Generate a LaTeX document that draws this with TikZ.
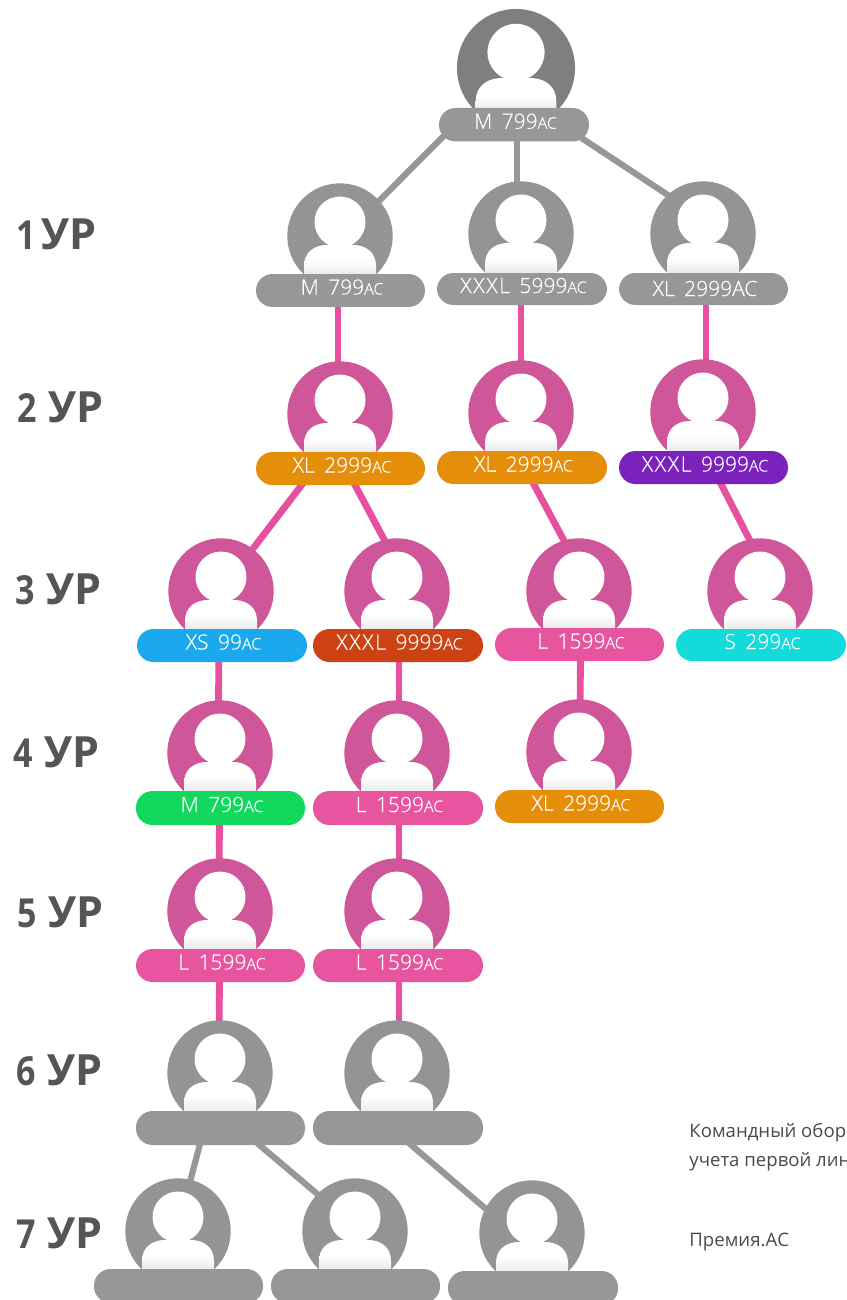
\documentclass[tikz,border=0pt]{standalone}
\usepackage{fontspec}
\setmainfont{Open Sans}
\newfontfamily\pillfont[RawFeature={embolden=0.35}]{Open Sans Light}
\usetikzlibrary{backgrounds}
\definecolor{grayc}{HTML}{949494}
\definecolor{graytop}{HTML}{7F7F7F}
\definecolor{graypill}{HTML}{979797}
\definecolor{pinkc}{HTML}{CF5699}
\definecolor{linkp}{HTML}{E6509F}
\definecolor{linkg}{HTML}{979797}
\definecolor{cor}{HTML}{E58E09}
\definecolor{cpu}{HTML}{7A22BB}
\definecolor{cbl}{HTML}{1AA9EF}
\definecolor{cre}{HTML}{CD4213}
\definecolor{cpk}{HTML}{E6559E}
\definecolor{ccy}{HTML}{13DBD9}
\definecolor{cgr}{HTML}{12D85E}
\definecolor{lab}{HTML}{555555}
\definecolor{notec}{HTML}{4A4A4A}
\tikzset{
  x=0.5pt,y=-0.5pt,
  disc/.style={circle,inner sep=0pt,minimum size=#1},
  pillbox/.style={rectangle,rounded corners=8.25pt,inner sep=0pt,text=white,
    font=\pillfont\fontsize{10.5pt}{12pt}\selectfont,text height=4pt,text depth=0pt},
  lvl/.style={anchor=base west,inner sep=0pt,text=lab,font=\bfseries\fontsize{21.5pt}{24pt}\selectfont},
  note/.style={anchor=base west,inner sep=0pt,text=notec,font=\fontsize{9.3pt}{11pt}\selectfont},
  linkpink/.style={draw=linkp,line width=3.4pt},
  linkgray/.style={draw=linkg,line width=3.1pt},
}
\newcommand{\person}[5]{% id cx cy color scale
  \node[disc=52.7pt*#5,fill=#4] (c#1) at (#2,#3) {};
  \begin{scope}[shift={(#2,#3)},scale=#5]
    \fill[white] (0,-14) circle (25.5);
    \shade[top color=white,bottom color=black!9,middle color=white]
      (-36,40) -- (-36,30) .. controls (-36,17) and (-27,10) .. (-15,9)
      -- (15,9) .. controls (27,10) and (36,17) .. (36,30) -- (36,40) -- cycle;
  \end{scope}
}
\newcommand{\pillb}[7]{% id x1 x2 y1 y2 colour text
  \node[pillbox,fill=#6,minimum width={(#3-#2)*0.5pt},minimum height={(#5-#4)*0.5pt}]
    (p#1) at ({(#2+#3)/2},{(#4+#5)/2}) {\hspace{1.5pt}#7};
}
\newcommand{\sz}[2]{#1\hspace{0.45em}#2}
\newcommand{\ac}{{\fontsize{8pt}{9pt}\selectfont AC}}
\newcommand{\xxxl}{{\addfontfeature{LetterSpace=8}XXXL}}
\newcommand{\lv}[2]{\scalebox{0.85}[1]{\fontsize{20pt}{22pt}\selectfont #1}\hspace{#2}УР}
% link: style, from node, dx, dy, to node, dx, dy (offsets in px from node centres)
\newcommand{\lnk}[7]{\draw[#1] ([shift={(#3,#4)}]#2.center) -- ([shift={(#6,#7)}]#5.center);}
\begin{document}
\begin{tikzpicture}
\useasboundingbox (0,0) rectangle (846,1300);
% people
\person{a}{516}{68}{graytop}{1.12}
\pillb{a}{439}{589}{108}{141.5}{graypill}{\sz{M}{799\ac}}
\person{ba}{340}{236}{grayc}{1}
\pillb{ba}{256}{425}{274}{307}{graypill}{\sz{M}{799\ac}}
\person{bb}{521}{234}{grayc}{1}
\pillb{bb}{437}{607}{273}{305}{graypill}{\sz{\xxxl}{5999\ac}}
\person{bc}{703}{234}{grayc}{1}
\pillb{bc}{619}{788}{273}{305}{graypill}{\raisebox{-1.5pt}{\sz{XL}{2999AC}}}
\person{ca}{340}{414}{pinkc}{1}
\pillb{ca}{256}{425}{452}{485}{cor}{\sz{XL}{2999\ac}}
\person{cb}{521}{413}{pinkc}{1}
\pillb{cb}{437}{607}{451}{484}{cor}{\sz{XL}{2999\ac}}
\person{cc}{703}{412}{pinkc}{1}
\pillb{cc}{619}{788}{451}{484}{cpu}{\sz{\xxxl}{9999\ac}}
\person{da}{221}{591}{pinkc}{1}
\pillb{da}{137}{307}{629}{662}{cbl}{\sz{XS}{99\ac}}
\person{db}{397}{591}{pinkc}{1}
\pillb{db}{313}{483}{629}{662}{cre}{\sz{\xxxl}{9999\ac}}
\person{dc}{579}{591}{pinkc}{1}
\pillb{dc}{495}{664}{628}{661}{cpk}{\sz{L}{1599\ac}}
\person{dd}{760}{591}{pinkc}{1}
\pillb{dd}{676}{846}{629}{661}{ccy}{\sz{S}{299\ac}}
\person{ea}{220}{753}{pinkc}{1}
\pillb{ea}{136}{305}{791}{825}{cgr}{\sz{M}{799\ac}}
\person{eb}{397}{753}{pinkc}{1}
\pillb{eb}{313}{483}{791}{825}{cpk}{\sz{L}{1599\ac}}
\person{ec}{579}{752}{pinkc}{1}
\pillb{ec}{495}{664}{790}{823}{cor}{\sz{XL}{2999\ac}}
\person{fa}{220}{911}{pinkc}{1}
\pillb{fa}{136}{305}{949}{982}{cpk}{\sz{L}{1599\ac}}
\person{fb}{397}{911}{pinkc}{1}
\pillb{fb}{313}{483}{949}{982}{cpk}{\sz{L}{1599\ac}}
\person{ga}{220}{1073}{grayc}{1}
\pillb{ga}{136}{305}{1111}{1145}{graypill}{}
\person{gb}{397}{1073}{grayc}{1}
\pillb{gb}{313}{483}{1111}{1145}{graypill}{}
\person{ha}{178}{1231}{grayc}{1}
\pillb{ha}{94}{263}{1269}{1303}{graypill}{}
\person{hb}{355}{1231}{grayc}{1}
\pillb{hb}{271}{440}{1269}{1303}{graypill}{}
\person{hc}{532}{1233}{grayc}{1}
\pillb{hc}{448}{618}{1271}{1305}{graypill}{}
% labels
\node[lvl] (l1) at (16,249.5) {\lv{1}{3pt}};
\node[lvl] (l2) at (17,422) {\lv{2}{6pt}};
\node[lvl] (l3) at (15,604) {\lv{3}{6pt}};
\node[lvl] (l4) at (13,767) {\lv{4}{6pt}};
\node[lvl] (l5) at (17,927) {\lv{5}{6pt}};
\node[lvl] (l6) at (16,1085.5) {\lv{6}{6pt}};
\node[lvl] (l7) at (16,1248) {\lv{7}{6pt}};
\node[note] (n1) at (689,1137) {Командный обор};
\node[note] (n2) at (689,1166) {учета первой лин};
\node[note] (n3) at (689,1246) {Премия.АС};
% connectors
\begin{pgfonlayer}{background}
\lnk{linkgray}{pa}{-59}{0}{cba}{4}{0}
\lnk{linkgray}{pa}{3}{0}{cbb}{-4}{-20}
\lnk{linkgray}{pa}{47.4}{0}{cbc}{24}{0}
\lnk{linkpink}{pba}{-2.5}{0}{cca}{-2}{0}
\lnk{linkpink}{pbb}{-1}{0}{ccb}{0}{0}
\lnk{linkpink}{pbc}{2.5}{0}{ccc}{3}{0}
\lnk{linkpink}{pca}{-26.2}{0}{cda}{-0.4}{0}
\lnk{linkpink}{pca}{5.7}{0}{cdb}{14.6}{0}
\lnk{linkpink}{pcb}{2.8}{0}{cdc}{12}{0}
\lnk{linkpink}{pcc}{9.1}{0}{cdd}{15.7}{0}
\lnk{linkpink}{pda}{-3}{0}{cea}{-2}{0}
\lnk{linkpink}{pdb}{1}{0}{ceb}{2}{0}
\lnk{linkpink}{pdc}{1}{0}{cec}{1}{0}
\lnk{linkpink}{pea}{-1}{0}{cfa}{-1}{0}
\lnk{linkpink}{peb}{1}{0}{cfb}{2}{0}
\lnk{linkpink}{pfa}{-1}{0}{cga}{-1}{0}
\lnk{linkpink}{pfb}{1}{0}{cgb}{2}{0}
\lnk{linkgray}{pga}{-16.3}{0}{cha}{-1}{0}
\lnk{linkgray}{pga}{18.9}{0}{chb}{6}{0}
\lnk{linkgray}{pgb}{-6.7}{0}{chc}{-18}{0}
\end{pgfonlayer}
\end{tikzpicture}
\end{document}
